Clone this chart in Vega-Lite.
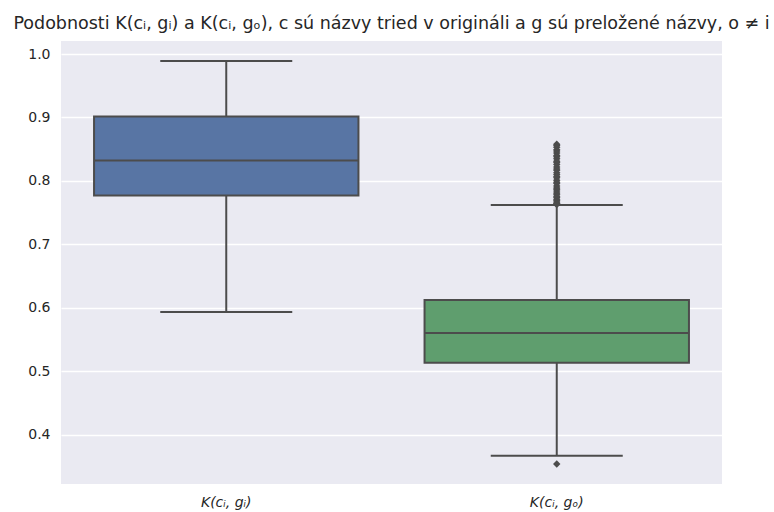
{
  "$schema": "https://vega.github.io/schema/vega-lite/v6.json",
  "width": 661,
  "height": 443,
  "autosize": {"type": "none"},
  "padding": {"left": 61, "top": 41, "right": 52, "bottom": 28},
  "background": "white",
  "title": {
    "text": "Podobnosti K(cᵢ, gᵢ) a K(cᵢ, gₒ), c sú názvy tried v origináli a g sú preložené názvy, o ≠ i",
    "font": "DejaVu Sans",
    "fontSize": 17.5,
    "fontWeight": "normal",
    "color": "#262626",
    "anchor": "middle",
    "offset": 9
  },
  "datasets": {
    "stats": [
      {"cat": "K(cᵢ, gᵢ)", "lo": 0.5937, "q1": 0.7772, "med": 0.8323, "q3": 0.9016, "hi": 0.989},
      {"cat": "K(cᵢ, gₒ)", "lo": 0.3669, "q1": 0.5134, "med": 0.5606, "q3": 0.6126, "hi": 0.762}
    ],
    "out": [
      {"cat": "K(cᵢ, gₒ)", "v": 0.354},
      {"cat": "K(cᵢ, gₒ)", "v": 0.858},
      {"cat": "K(cᵢ, gₒ)", "v": 0.856},
      {"cat": "K(cᵢ, gₒ)", "v": 0.853},
      {"cat": "K(cᵢ, gₒ)", "v": 0.849},
      {"cat": "K(cᵢ, gₒ)", "v": 0.847},
      {"cat": "K(cᵢ, gₒ)", "v": 0.844},
      {"cat": "K(cᵢ, gₒ)", "v": 0.840},
      {"cat": "K(cᵢ, gₒ)", "v": 0.838},
      {"cat": "K(cᵢ, gₒ)", "v": 0.835},
      {"cat": "K(cᵢ, gₒ)", "v": 0.831},
      {"cat": "K(cᵢ, gₒ)", "v": 0.829},
      {"cat": "K(cᵢ, gₒ)", "v": 0.826},
      {"cat": "K(cᵢ, gₒ)", "v": 0.822},
      {"cat": "K(cᵢ, gₒ)", "v": 0.819},
      {"cat": "K(cᵢ, gₒ)", "v": 0.817},
      {"cat": "K(cᵢ, gₒ)", "v": 0.813},
      {"cat": "K(cᵢ, gₒ)", "v": 0.810},
      {"cat": "K(cᵢ, gₒ)", "v": 0.807},
      {"cat": "K(cᵢ, gₒ)", "v": 0.805},
      {"cat": "K(cᵢ, gₒ)", "v": 0.801},
      {"cat": "K(cᵢ, gₒ)", "v": 0.798},
      {"cat": "K(cᵢ, gₒ)", "v": 0.796},
      {"cat": "K(cᵢ, gₒ)", "v": 0.792},
      {"cat": "K(cᵢ, gₒ)", "v": 0.789},
      {"cat": "K(cᵢ, gₒ)", "v": 0.787},
      {"cat": "K(cᵢ, gₒ)", "v": 0.784},
      {"cat": "K(cᵢ, gₒ)", "v": 0.781},
      {"cat": "K(cᵢ, gₒ)", "v": 0.779},
      {"cat": "K(cᵢ, gₒ)", "v": 0.776},
      {"cat": "K(cᵢ, gₒ)", "v": 0.774},
      {"cat": "K(cᵢ, gₒ)", "v": 0.771},
      {"cat": "K(cᵢ, gₒ)", "v": 0.769},
      {"cat": "K(cᵢ, gₒ)", "v": 0.767},
      {"cat": "K(cᵢ, gₒ)", "v": 0.765},
      {"cat": "K(cᵢ, gₒ)", "v": 0.764},
      {"cat": "K(cᵢ, gₒ)", "v": 0.763}
    ]
  },
  "config": {
    "view": {"fill": "#eaeaf2", "stroke": null},
    "axis": {
      "labelFont": "DejaVu Sans",
      "labelFontSize": 14,
      "labelColor": "#262626",
      "domain": false,
      "ticks": false,
      "title": null
    }
  },
  "encoding": {
    "x": {
      "field": "cat",
      "type": "nominal",
      "sort": null,
      "scale": {"paddingInner": 0.2, "paddingOuter": 0.1},
      "axis": {"labelAngle": 0, "labelFontStyle": "italic", "labelPadding": 11, "grid": false}
    }
  },
  "layer": [
    {
      "data": {"name": "stats"},
      "mark": {"type": "rule", "color": "#4c4c4c", "strokeWidth": 2},
      "encoding": {
        "y": {
          "field": "lo",
          "type": "quantitative",
          "scale": {"domain": [0.3225, 1.0205], "nice": false, "zero": false},
          "axis": {"values": [0.4, 0.5, 0.6, 0.7, 0.8, 0.9, 1.0], "format": ".1f", "gridColor": "white", "gridWidth": 1.3, "labelPadding": 11}
        },
        "y2": {"field": "hi"}
      }
    },
    {
      "data": {"name": "stats"},
      "mark": {"type": "bar", "stroke": "#4c4c4c", "strokeWidth": 2},
      "encoding": {
        "y": {"field": "q1", "type": "quantitative"},
        "y2": {"field": "q3"},
        "color": {
          "field": "cat",
          "type": "nominal",
          "sort": null,
          "scale": {"range": ["#5875a4", "#5f9e6e"]},
          "legend": null
        }
      }
    },
    {
      "data": {"name": "stats"},
      "mark": {"type": "tick", "color": "#4c4c4c", "thickness": 2, "size": 264, "opacity": 1},
      "encoding": {"y": {"field": "med", "type": "quantitative"}}
    },
    {
      "data": {"name": "stats"},
      "mark": {"type": "tick", "color": "#4c4c4c", "thickness": 2, "size": 132, "opacity": 1},
      "encoding": {"y": {"field": "lo", "type": "quantitative"}}
    },
    {
      "data": {"name": "stats"},
      "mark": {"type": "tick", "color": "#4c4c4c", "thickness": 2, "size": 132, "opacity": 1},
      "encoding": {"y": {"field": "hi", "type": "quantitative"}}
    },
    {
      "data": {"name": "out"},
      "mark": {"type": "point", "shape": "diamond", "filled": true, "color": "#4c4c4c", "size": 55, "opacity": 1},
      "encoding": {"y": {"field": "v", "type": "quantitative"}}
    }
  ]
}
